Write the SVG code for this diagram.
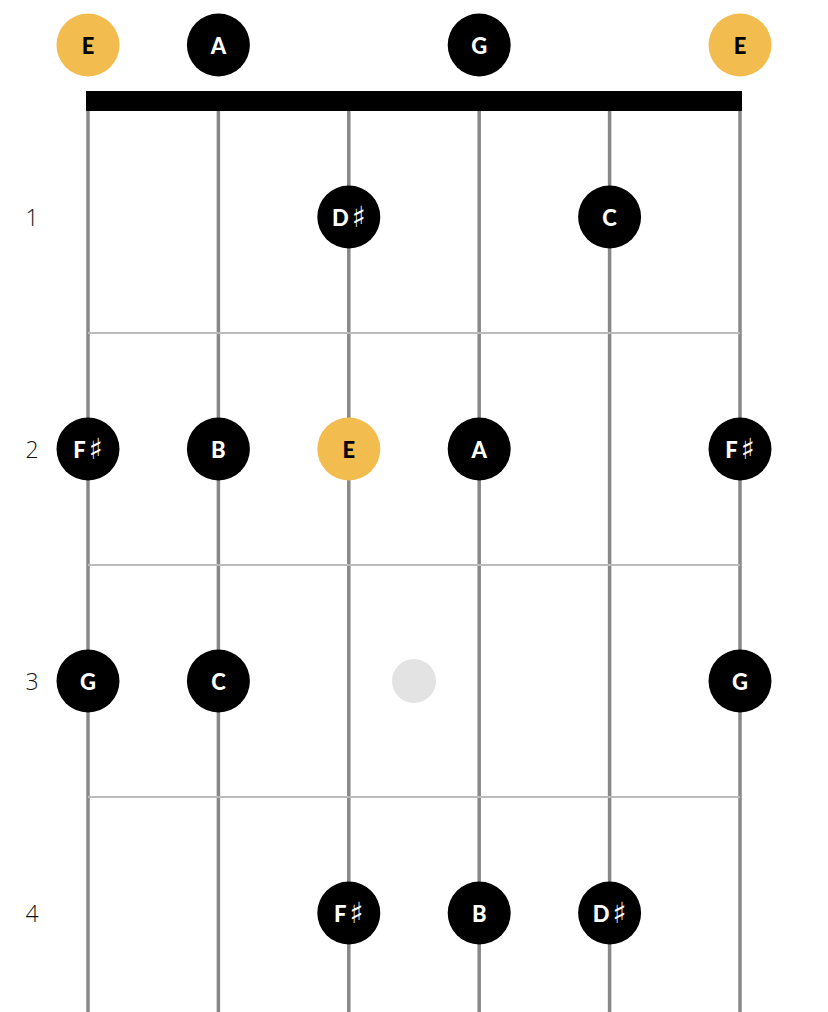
<svg xmlns="http://www.w3.org/2000/svg" width="828" height="1012" viewBox="0 0 828 1012">
<style>
.str{stroke:#888;stroke-width:3.5}
.fret{stroke:#bbb;stroke-width:2}
.n circle{fill:#000}
.n text{fill:#fff;font-family:Lato,"Liberation Sans",sans-serif;font-weight:900;font-size:22px;text-anchor:middle;dominant-baseline:central}
.n text .s{font-family:"DejaVu Sans",sans-serif;font-weight:400;font-size:29px}
.r circle{fill:#f2bc4f}
.r text{fill:#000}
.fl{font-family:"Open Sans","Liberation Sans",sans-serif;font-weight:300;font-size:23px;fill:#111;text-anchor:middle;dominant-baseline:central}
</style>
<rect width="828" height="1012" fill="#fff"/>
<g id="fretboard">
<line class="str" x1="88" y1="100" x2="88" y2="1012"/>
<line class="str" x1="218.4" y1="100" x2="218.4" y2="1012"/>
<line class="str" x1="348.8" y1="100" x2="348.8" y2="1012"/>
<line class="str" x1="479.2" y1="100" x2="479.2" y2="1012"/>
<line class="str" x1="609.6" y1="100" x2="609.6" y2="1012"/>
<line class="str" x1="740" y1="100" x2="740" y2="1012"/>
<line class="fret" x1="88" y1="333" x2="740" y2="333"/>
<line class="fret" x1="88" y1="565" x2="740" y2="565"/>
<line class="fret" x1="88" y1="797" x2="740" y2="797"/>
<rect id="nut" x="86" y="91" width="656" height="20" fill="#000"/>
<circle id="marker" cx="414" cy="681" r="22" fill="#e3e3e3"/>
</g>
<g id="fret-labels">
<text class="fl" x="32" y="217">1</text>
<text class="fl" x="32" y="449">2</text>
<text class="fl" x="32" y="681">3</text>
<text class="fl" x="32" y="913">4</text>
</g>
<g id="open-E6" class="n r"><circle cx="88" cy="45" r="31.5"/><text x="88" y="45">E</text></g>
<g id="open-A" class="n"><circle cx="218.4" cy="45" r="31.5"/><text x="218.4" y="45">A</text></g>
<g id="open-G" class="n"><circle cx="479.2" cy="45" r="31.5"/><text x="479.2" y="45">G</text></g>
<g id="open-E1" class="n r"><circle cx="740" cy="45" r="31.5"/><text x="740" y="45">E</text></g>
<g id="f1-Ds" class="n"><circle cx="348.8" cy="217" r="31.5"/><text x="348.8" y="217">D<tspan class="s" dx="3">♯</tspan></text></g>
<g id="f1-C" class="n"><circle cx="609.6" cy="217" r="31.5"/><text x="609.6" y="217">C</text></g>
<g id="f2-Fs6" class="n"><circle cx="88" cy="449" r="31.5"/><text x="88" y="449">F<tspan class="s" dx="3">♯</tspan></text></g>
<g id="f2-B" class="n"><circle cx="218.4" cy="449" r="31.5"/><text x="218.4" y="449">B</text></g>
<g id="f2-E" class="n r"><circle cx="348.8" cy="449" r="31.5"/><text x="348.8" y="449">E</text></g>
<g id="f2-A" class="n"><circle cx="479.2" cy="449" r="31.5"/><text x="479.2" y="449">A</text></g>
<g id="f2-Fs1" class="n"><circle cx="740" cy="449" r="31.5"/><text x="740" y="449">F<tspan class="s" dx="3">♯</tspan></text></g>
<g id="f3-G6" class="n"><circle cx="88" cy="681" r="31.5"/><text x="88" y="681">G</text></g>
<g id="f3-C" class="n"><circle cx="218.4" cy="681" r="31.5"/><text x="218.4" y="681">C</text></g>
<g id="f3-G1" class="n"><circle cx="740" cy="681" r="31.5"/><text x="740" y="681">G</text></g>
<g id="f4-Fs" class="n"><circle cx="348.8" cy="913" r="31.5"/><text x="348.8" y="913">F<tspan class="s" dx="3">♯</tspan></text></g>
<g id="f4-B" class="n"><circle cx="479.2" cy="913" r="31.5"/><text x="479.2" y="913">B</text></g>
<g id="f4-Ds" class="n"><circle cx="609.6" cy="913" r="31.5"/><text x="609.6" y="913">D<tspan class="s" dx="3">♯</tspan></text></g>
</svg>
